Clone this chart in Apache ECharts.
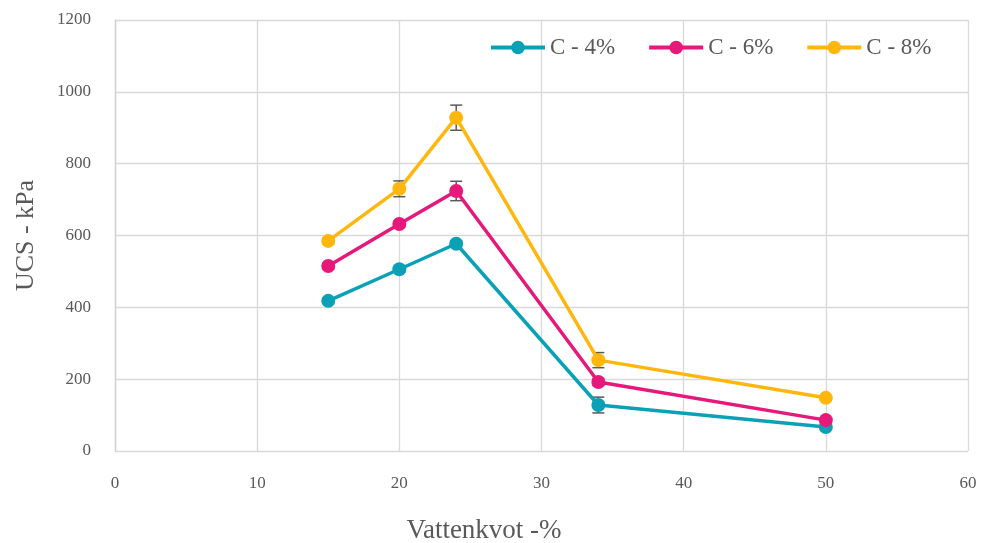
<!DOCTYPE html>
<html>
<head>
<meta charset="utf-8">
<script src="https://cdn.jsdelivr.net/npm/echarts@6/dist/echarts.min.js"></script>
<style>
  html, body { margin: 0; padding: 0; background: #fff; }
  #chart { width: 984px; height: 543px; }
</style>
</head>
<body>
<div id="chart"></div>
<script>
// Water content (%) for each test series
const waterContent = [15, 20, 24, 34, 50];

// Unconfined compressive strength (kPa) per cement content
const ucsC4 = [418, 506, 577, 128, 67];
const ucsC6 = [515, 632, 724, 192, 86];
const ucsC8 = [585, 730, 928, 253, 148];

// Standard deviations (kPa) shown as error bars
const errC4 = [8, 8, 8, 22, 6];
const errC6 = [8, 8, 27, 10, 6];
const errC8 = [8, 22, 35, 21, 6];

const seriesNames = ['C - 4%', 'C - 6%', 'C - 8%'];
const colors = ['#0AA1B7', '#E6197A', '#FFB70D'];

const serif = '"Liberation Serif", "DejaVu Serif", serif';
const textGray = '#595959';

const valueSets = [ucsC4, ucsC6, ucsC8];
const errorSets = [errC4, errC6, errC8];

function pairs(vals) {
  return waterContent.map((x, i) => [x, vals[i]]);
}

function errorSeries(vals, errs) {
  return {
    type: 'custom',
    silent: true,
    z: 1,
    data: waterContent.map((x, i) => [x, vals[i] - errs[i], vals[i] + errs[i]]),
    renderItem: function (params, api) {
      const x = api.value(0);
      const lo = api.coord([x, api.value(1)]);
      const hi = api.coord([x, api.value(2)]);
      const cap = 6;
      const style = { stroke: '#5a5a5a', lineWidth: 1.5 };
      return {
        type: 'group',
        children: [
          { type: 'line', shape: { x1: lo[0], y1: lo[1], x2: hi[0], y2: hi[1] }, style },
          { type: 'line', shape: { x1: lo[0] - cap, y1: lo[1], x2: lo[0] + cap, y2: lo[1] }, style },
          { type: 'line', shape: { x1: hi[0] - cap, y1: hi[1], x2: hi[0] + cap, y2: hi[1] }, style }
        ]
      };
    }
  };
}

const series = [];
valueSets.forEach((vals, k) => {
  series.push(errorSeries(vals, errorSets[k]));
});
valueSets.forEach((vals, k) => {
  series.push({
    name: seriesNames[k],
    type: 'line',
    z: 3,
    data: pairs(vals),
    symbol: 'circle',
    symbolSize: 14,
    color: colors[k],
    lineStyle: { width: 3.5, color: colors[k] },
    itemStyle: { color: colors[k] }
  });
});

const chart = echarts.init(document.getElementById('chart'), null, { renderer: 'canvas' });
chart.setOption({
  animation: false,
  backgroundColor: '#fff',
  grid: { left: 115, right: 16, top: 20, bottom: 92 },
  legend: {
    data: seriesNames,
    top: 36,
    left: 489,
    padding: 0,
    itemWidth: 54,
    itemHeight: 17,
    itemGap: 32,
    lineStyle: { width: 4 },
    textStyle: { fontFamily: serif, fontSize: 23, color: textGray }
  },
  xAxis: {
    type: 'value',
    min: 0,
    max: 60,
    interval: 10,
    axisLine: { show: false },
    axisTick: { show: false },
    splitLine: { show: true, lineStyle: { color: '#d9d9d9', width: 1.3 } },
    axisLabel: { margin: 24, fontFamily: serif, fontSize: 17, color: textGray }
  },
  yAxis: {
    type: 'value',
    min: 0,
    max: 1200,
    interval: 200,
    name: 'UCS - kPa',
    nameLocation: 'middle',
    nameGap: 76,
    nameTextStyle: { fontFamily: serif, fontSize: 26, color: textGray },
    axisLine: { show: true, lineStyle: { color: '#d0d0d0', width: 1.3 } },
    axisTick: { show: false },
    splitLine: { show: true, lineStyle: { color: '#d9d9d9', width: 1.3 } },
    axisLabel: {
      margin: 24, fontFamily: serif, fontSize: 17, color: textGray,
      formatter: function (v) { return String(v); }
    }
  },
  graphic: [{
    type: 'text',
    x: 484,
    y: 531,
    style: {
      text: 'Vattenkvot -%', fontFamily: serif, fontSize: 27, fill: textGray,
      align: 'center', verticalAlign: 'middle'
    }
  }],
  series: series
});
</script>
</body>
</html>
